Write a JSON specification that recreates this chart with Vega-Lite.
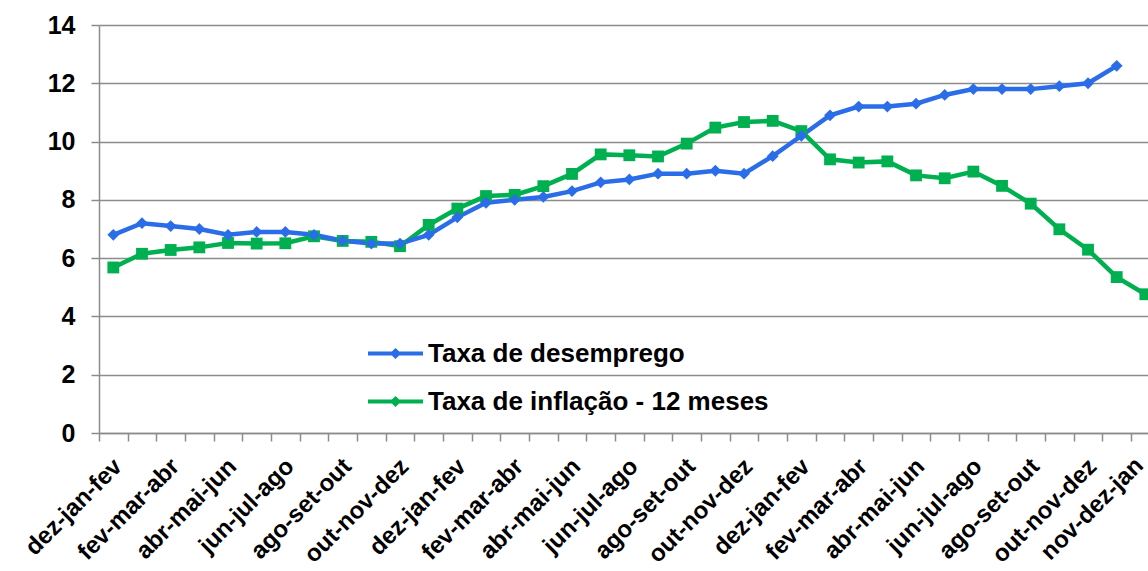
{
  "$schema": "https://vega.github.io/schema/vega-lite/v6.json",
  "autosize": {"type": "none"},
  "padding": {"left": 99, "top": 25, "right": 0, "bottom": 138},
  "width": 1049,
  "height": 408,
  "background": "white",
  "config": {
    "view": {"stroke": null},
    "font": "Liberation Sans"
  },
  "data": {
    "values": [
      {"periodo": "dez-jan-fev 2014", "serie": "Taxa de inflação - 12 meses", "valor": 5.68},
      {"periodo": "jan-fev-mar 2014", "serie": "Taxa de inflação - 12 meses", "valor": 6.15},
      {"periodo": "fev-mar-abr 2014", "serie": "Taxa de inflação - 12 meses", "valor": 6.28},
      {"periodo": "mar-abr-mai 2014", "serie": "Taxa de inflação - 12 meses", "valor": 6.37},
      {"periodo": "abr-mai-jun 2014", "serie": "Taxa de inflação - 12 meses", "valor": 6.52},
      {"periodo": "mai-jun-jul 2014", "serie": "Taxa de inflação - 12 meses", "valor": 6.50},
      {"periodo": "jun-jul-ago 2014", "serie": "Taxa de inflação - 12 meses", "valor": 6.51},
      {"periodo": "jul-ago-set 2014", "serie": "Taxa de inflação - 12 meses", "valor": 6.75},
      {"periodo": "ago-set-out 2014", "serie": "Taxa de inflação - 12 meses", "valor": 6.59},
      {"periodo": "set-out-nov 2014", "serie": "Taxa de inflação - 12 meses", "valor": 6.56},
      {"periodo": "out-nov-dez 2014", "serie": "Taxa de inflação - 12 meses", "valor": 6.41},
      {"periodo": "nov-dez-jan 2015", "serie": "Taxa de inflação - 12 meses", "valor": 7.14},
      {"periodo": "dez-jan-fev 2015", "serie": "Taxa de inflação - 12 meses", "valor": 7.70},
      {"periodo": "jan-fev-mar 2015", "serie": "Taxa de inflação - 12 meses", "valor": 8.13},
      {"periodo": "fev-mar-abr 2015", "serie": "Taxa de inflação - 12 meses", "valor": 8.17},
      {"periodo": "mar-abr-mai 2015", "serie": "Taxa de inflação - 12 meses", "valor": 8.47},
      {"periodo": "abr-mai-jun 2015", "serie": "Taxa de inflação - 12 meses", "valor": 8.89},
      {"periodo": "mai-jun-jul 2015", "serie": "Taxa de inflação - 12 meses", "valor": 9.56},
      {"periodo": "jun-jul-ago 2015", "serie": "Taxa de inflação - 12 meses", "valor": 9.53},
      {"periodo": "jul-ago-set 2015", "serie": "Taxa de inflação - 12 meses", "valor": 9.49},
      {"periodo": "ago-set-out 2015", "serie": "Taxa de inflação - 12 meses", "valor": 9.93},
      {"periodo": "set-out-nov 2015", "serie": "Taxa de inflação - 12 meses", "valor": 10.48},
      {"periodo": "out-nov-dez 2015", "serie": "Taxa de inflação - 12 meses", "valor": 10.67},
      {"periodo": "nov-dez-jan 2016", "serie": "Taxa de inflação - 12 meses", "valor": 10.71},
      {"periodo": "dez-jan-fev 2016", "serie": "Taxa de inflação - 12 meses", "valor": 10.36},
      {"periodo": "jan-fev-mar 2016", "serie": "Taxa de inflação - 12 meses", "valor": 9.39},
      {"periodo": "fev-mar-abr 2016", "serie": "Taxa de inflação - 12 meses", "valor": 9.28},
      {"periodo": "mar-abr-mai 2016", "serie": "Taxa de inflação - 12 meses", "valor": 9.32},
      {"periodo": "abr-mai-jun 2016", "serie": "Taxa de inflação - 12 meses", "valor": 8.84},
      {"periodo": "mai-jun-jul 2016", "serie": "Taxa de inflação - 12 meses", "valor": 8.74},
      {"periodo": "jun-jul-ago 2016", "serie": "Taxa de inflação - 12 meses", "valor": 8.97},
      {"periodo": "jul-ago-set 2016", "serie": "Taxa de inflação - 12 meses", "valor": 8.48},
      {"periodo": "ago-set-out 2016", "serie": "Taxa de inflação - 12 meses", "valor": 7.87},
      {"periodo": "set-out-nov 2016", "serie": "Taxa de inflação - 12 meses", "valor": 6.99},
      {"periodo": "out-nov-dez 2016", "serie": "Taxa de inflação - 12 meses", "valor": 6.29},
      {"periodo": "nov-dez-jan 2017", "serie": "Taxa de inflação - 12 meses", "valor": 5.35},
      {"periodo": "dez-jan-fev 2017", "serie": "Taxa de inflação - 12 meses", "valor": 4.76},
      {"periodo": "dez-jan-fev 2014", "serie": "Taxa de desemprego", "valor": 6.8},
      {"periodo": "jan-fev-mar 2014", "serie": "Taxa de desemprego", "valor": 7.2},
      {"periodo": "fev-mar-abr 2014", "serie": "Taxa de desemprego", "valor": 7.1},
      {"periodo": "mar-abr-mai 2014", "serie": "Taxa de desemprego", "valor": 7.0},
      {"periodo": "abr-mai-jun 2014", "serie": "Taxa de desemprego", "valor": 6.8},
      {"periodo": "mai-jun-jul 2014", "serie": "Taxa de desemprego", "valor": 6.9},
      {"periodo": "jun-jul-ago 2014", "serie": "Taxa de desemprego", "valor": 6.9},
      {"periodo": "jul-ago-set 2014", "serie": "Taxa de desemprego", "valor": 6.8},
      {"periodo": "ago-set-out 2014", "serie": "Taxa de desemprego", "valor": 6.6},
      {"periodo": "set-out-nov 2014", "serie": "Taxa de desemprego", "valor": 6.5},
      {"periodo": "out-nov-dez 2014", "serie": "Taxa de desemprego", "valor": 6.5},
      {"periodo": "nov-dez-jan 2015", "serie": "Taxa de desemprego", "valor": 6.8},
      {"periodo": "dez-jan-fev 2015", "serie": "Taxa de desemprego", "valor": 7.4},
      {"periodo": "jan-fev-mar 2015", "serie": "Taxa de desemprego", "valor": 7.9},
      {"periodo": "fev-mar-abr 2015", "serie": "Taxa de desemprego", "valor": 8.0},
      {"periodo": "mar-abr-mai 2015", "serie": "Taxa de desemprego", "valor": 8.1},
      {"periodo": "abr-mai-jun 2015", "serie": "Taxa de desemprego", "valor": 8.3},
      {"periodo": "mai-jun-jul 2015", "serie": "Taxa de desemprego", "valor": 8.6},
      {"periodo": "jun-jul-ago 2015", "serie": "Taxa de desemprego", "valor": 8.7},
      {"periodo": "jul-ago-set 2015", "serie": "Taxa de desemprego", "valor": 8.9},
      {"periodo": "ago-set-out 2015", "serie": "Taxa de desemprego", "valor": 8.9},
      {"periodo": "set-out-nov 2015", "serie": "Taxa de desemprego", "valor": 9.0},
      {"periodo": "out-nov-dez 2015", "serie": "Taxa de desemprego", "valor": 8.9},
      {"periodo": "nov-dez-jan 2016", "serie": "Taxa de desemprego", "valor": 9.5},
      {"periodo": "dez-jan-fev 2016", "serie": "Taxa de desemprego", "valor": 10.2},
      {"periodo": "jan-fev-mar 2016", "serie": "Taxa de desemprego", "valor": 10.9},
      {"periodo": "fev-mar-abr 2016", "serie": "Taxa de desemprego", "valor": 11.2},
      {"periodo": "mar-abr-mai 2016", "serie": "Taxa de desemprego", "valor": 11.2},
      {"periodo": "abr-mai-jun 2016", "serie": "Taxa de desemprego", "valor": 11.3},
      {"periodo": "mai-jun-jul 2016", "serie": "Taxa de desemprego", "valor": 11.6},
      {"periodo": "jun-jul-ago 2016", "serie": "Taxa de desemprego", "valor": 11.8},
      {"periodo": "jul-ago-set 2016", "serie": "Taxa de desemprego", "valor": 11.8},
      {"periodo": "ago-set-out 2016", "serie": "Taxa de desemprego", "valor": 11.8},
      {"periodo": "set-out-nov 2016", "serie": "Taxa de desemprego", "valor": 11.9},
      {"periodo": "out-nov-dez 2016", "serie": "Taxa de desemprego", "valor": 12.0},
      {"periodo": "nov-dez-jan 2017", "serie": "Taxa de desemprego", "valor": 12.6}
    ]
  },
  "encoding": {
    "x": {
      "field": "periodo",
      "type": "ordinal",
      "sort": null,
      "bandPosition": 0.5,
      "scale": {"type": "band", "paddingInner": 0, "paddingOuter": 0, "range": [0, 1060.7]},
      "axis": {
        "title": null,
        "tickBand": "extent",
        "domainColor": "#8c8c8c",
        "domainWidth": 1.5,
        "tickColor": "#8c8c8c",
        "tickWidth": 1.5,
        "tickSize": 8,
        "grid": false,
        "labelAngle": -45,
        "labelFont": "Liberation Sans",
        "labelFontWeight": "bold",
        "labelFontSize": 24,
        "labelColor": "black",
        "labelOverlap": false,
        "labelBound": false,
        "labelPadding": {"condition": {"test": "datum.value == 'nov-dez-jan 2017'", "value": 12}, "value": 13},
        "labelOffset": {"condition": {"test": "datum.value == 'nov-dez-jan 2017'", "value": 14}, "value": -4},
        "labelExpr": "(indexof(domain('x'), datum.value) % 2 == 0 && indexof(domain('x'), datum.value) < 36) || indexof(domain('x'), datum.value) == 35 ? split(datum.value, ' ')[0] : ''"
      }
    },
    "y": {
      "field": "valor",
      "type": "quantitative",
      "scale": {"domain": [0, 14], "nice": false},
      "axis": {
        "title": null,
        "values": [0, 2, 4, 6, 8, 10, 12, 14],
        "domainColor": "#8c8c8c",
        "domainWidth": 1.5,
        "tickColor": "#8c8c8c",
        "tickWidth": 1.5,
        "tickSize": 8,
        "grid": true,
        "gridColor": "#8c8c8c",
        "gridWidth": 1.5,
        "labelFont": "Liberation Sans",
        "labelFontWeight": "bold",
        "labelFontSize": 25,
        "labelColor": "black",
        "labelPadding": 16
      }
    }
  },
  "resolve": {"legend": {"color": "independent", "shape": "independent"}},
  "layer": [
    {
      "mark": {"type": "line", "strokeWidth": 4.5},
      "encoding": {
        "color": {
          "field": "serie",
          "type": "nominal",
          "scale": {"domain": ["Taxa de desemprego", "Taxa de inflação - 12 meses"], "range": ["#2b6de8", "#00b050"]},
          "legend": {
            "title": null,
            "orient": "none",
            "legendX": 267,
            "legendY": 299,
            "labelFont": "Liberation Sans",
            "labelFontWeight": "bold",
            "labelFontSize": 26,
            "labelColor": "black",
            "labelOffset": 3,
            "symbolSize": 3025,
            "symbolStrokeWidth": 4,
            "symbolType": "M-1,0H1M0,-0.1L0.1,0L0,0.1L-0.1,0Z",
            "rowPadding": 5,
            "labelLimit": 600
          }
        }
      }
    },
    {
      "mark": {"type": "point", "filled": true, "opacity": 1, "strokeWidth": 0, "size": 140},
      "encoding": {
        "color": {
          "field": "serie",
          "type": "nominal",
          "scale": {"domain": ["Taxa de desemprego", "Taxa de inflação - 12 meses"], "range": ["#2b6de8", "#00b050"]},
          "legend": null
        },
        "shape": {
          "field": "serie",
          "type": "nominal",
          "scale": {"domain": ["Taxa de desemprego", "Taxa de inflação - 12 meses"], "range": ["diamond", "square"]},
          "legend": null
        }
      }
    }
  ]
}
